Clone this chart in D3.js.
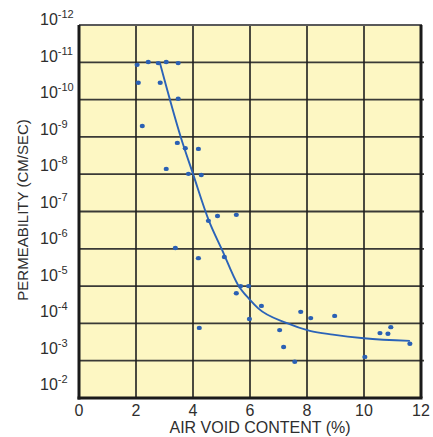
<!DOCTYPE html>
<html>
<head>
<meta charset="utf-8">
<script src="https://cdn.jsdelivr.net/npm/d3@7/dist/d3.min.js"></script>
<style>
  body { margin: 0; background: #fff; }
  text { font-family: "Liberation Sans", Arial, Helvetica, sans-serif; fill: #2e2e2e; }
</style>
</head>
<body>
<div id="chart"></div>
<script>
// measured points: air void content (%) vs permeability (cm/sec)
const airVoid = [2.04, 2.43, 2.78, 3.06, 3.48, 2.08, 2.85, 3.48, 2.22, 3.45,
                 3.73, 4.19, 3.06, 3.84, 4.29, 4.54, 4.86, 5.52, 3.38, 4.19,
                 5.10, 5.67, 5.95, 5.52, 6.40, 5.98, 4.22, 7.04, 7.18, 7.57,
                 7.78, 8.13, 8.97, 10.03, 10.56, 10.84, 10.94, 11.61];
const permeability = [1.17e-11, 9.8e-12, 1.05e-11, 9.8e-12, 1.05e-11, 3.55e-11, 3.55e-11, 9.5e-11, 5.1e-10, 1.45e-9,
                      2.0e-9, 2.1e-9, 7.2e-9, 9.8e-9, 1.05e-8, 1.78e-7, 1.32e-7, 1.23e-7, 9.5e-7, 1.78e-6,
                      1.66e-6, 1.0e-5, 1.0e-5, 1.55e-5, 3.4e-5, 7.6e-5, 1.32e-4, 1.51e-4, 4.3e-4, 1.07e-3,
                      4.9e-5, 7.2e-5, 6.3e-5, 7.9e-4, 1.82e-4, 1.9e-4, 1.26e-4, 3.5e-4];

// fitted trend curve
const fitVoid = [2.84, 3.58, 4.0, 4.56, 5.02, 5.58, 6.0, 6.28, 7.3, 8.1, 8.91, 10.0, 11.61];
const fitPerm = [1.05e-11, 1.07e-9, 9.8e-9, 1.78e-7, 1.07e-6, 9.3e-6, 2.34e-5, 3.9e-5, 9.8e-5, 1.58e-4, 2.0e-4, 2.5e-4, 2.95e-4];

const xTicks = [0, 2, 4, 6, 8, 10, 12];
const yExponents = [-12, -11, -10, -9, -8, -7, -6, -5, -4, -3, -2];

const width = 433, height = 437;
const plot = { left: 79, right: 421, top: 25, bottom: 398 };

const x = d3.scaleLinear().domain([0, 12]).range([plot.left, plot.right]);
const y = d3.scaleLog().domain([1e-12, 1e-2]).range([plot.top, plot.bottom]);
// tick labels in the original drift slightly upward toward the bottom
const yLabel = d3.scaleLog().domain([1e-12, 1e-2]).range([plot.top, plot.bottom - 8]);

const svg = d3.select("#chart").append("svg")
  .attr("width", width)
  .attr("height", height);

svg.append("rect")
  .attr("x", plot.left).attr("y", plot.top)
  .attr("width", plot.right - plot.left)
  .attr("height", plot.bottom - plot.top)
  .attr("fill", "#fdf7c3");

// grid
svg.append("g").selectAll("line")
  .data(yExponents.slice(1, -1))
  .enter().append("line")
  .attr("x1", plot.left).attr("x2", plot.right + 3)
  .attr("y1", d => y(Math.pow(10, d))).attr("y2", d => y(Math.pow(10, d)))
  .attr("stroke", "#3a3a36").attr("stroke-width", 1.8);

svg.append("g").selectAll("line")
  .data(xTicks.slice(1, -1))
  .enter().append("line")
  .attr("x1", d => x(d)).attr("x2", d => x(d))
  .attr("y1", plot.top).attr("y2", plot.bottom)
  .attr("stroke", "#1e1e1e").attr("stroke-width", 1.6);

// frame
svg.append("line")
  .attr("x1", plot.left).attr("x2", plot.right + 1)
  .attr("y1", plot.top).attr("y2", plot.top)
  .attr("stroke", "#5a5a5a").attr("stroke-width", 2);
svg.append("line")
  .attr("x1", plot.right).attr("x2", plot.right)
  .attr("y1", plot.top).attr("y2", plot.bottom)
  .attr("stroke", "#1a1a1a").attr("stroke-width", 3);
svg.append("line")
  .attr("x1", plot.left).attr("x2", plot.left)
  .attr("y1", plot.top).attr("y2", plot.bottom + 1.5)
  .attr("stroke", "#1a1a1a").attr("stroke-width", 3);
svg.append("line")
  .attr("x1", plot.left - 1.5).attr("x2", plot.right + 1.5)
  .attr("y1", plot.bottom).attr("y2", plot.bottom)
  .attr("stroke", "#1a1a1a").attr("stroke-width", 3);

// trend curve
const line = d3.line()
  .x((d, i) => x(fitVoid[i]))
  .y((d, i) => y(fitPerm[i]))
  .curve(d3.curveMonotoneX);

svg.append("path")
  .datum(fitVoid)
  .attr("d", line)
  .attr("fill", "none")
  .attr("stroke", "#2b63b8")
  .attr("stroke-width", 1.9);

// points
svg.append("g").selectAll("ellipse")
  .data(airVoid)
  .enter().append("ellipse")
  .attr("cx", d => x(d))
  .attr("cy", (d, i) => y(permeability[i]))
  .attr("rx", 2.6).attr("ry", 2.2)
  .attr("fill", "#2a60b4");

// y tick labels: 10 with superscript exponent
const yl = svg.append("g").selectAll("text")
  .data(yExponents)
  .enter().append("text")
  .attr("x", 40)
  .attr("y", d => yLabel(Math.pow(10, d)))
  .style("font-size", "16px");
yl.append("tspan").text("10");
yl.append("tspan")
  .attr("dy", -7)
  .style("font-size", "11px")
  .text(d => "-" + Math.abs(d));

// x tick labels
svg.append("g").selectAll("text")
  .data(xTicks)
  .enter().append("text")
  .attr("x", d => x(d))
  .attr("y", 416)
  .attr("text-anchor", "middle")
  .style("font-size", "16px")
  .text(d => d);

// axis titles
svg.append("text")
  .attr("x", 260).attr("y", 433)
  .attr("text-anchor", "middle")
  .style("font-size", "16px")
  .text("AIR VOID CONTENT (%)");

svg.append("text")
  .attr("transform", "translate(28,210) rotate(-90)")
  .attr("text-anchor", "middle")
  .style("font-size", "15px")
  .text("PERMEABILITY (CM/SEC)");
</script>
</body>
</html>
